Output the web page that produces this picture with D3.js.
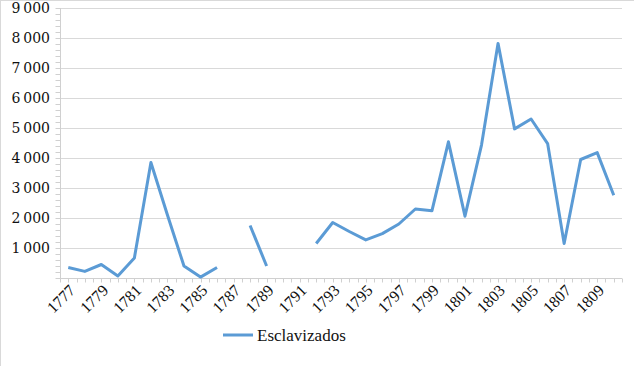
<!DOCTYPE html>
<html lang="es">
<head>
<meta charset="UTF-8" />
<title>Esclavizados</title>
<script src="https://d3js.org/d3.v7.min.js"></script>
<style>
  body { margin: 0; background: #fff; }
  .grid line { stroke: #d9d9d9; stroke-width: 1px; }
  .axis path, .axis line { stroke: #d0d0d0; }
</style>
</head>
<body>
<script>
// años (categorías)
const years = d3.range(1777, 1811);
// esclavizados por año (null = sin dato)
const values = [
  350, 220, 450, 70, 670, 3850, 2100, 400, 30, 350,
  null, 1750, 400, null, null, 1150, 1850, 1550, 1270, 1480,
  1800, 2300, 2240, 4540, 2060, 4430, 7820, 4970, 5300, 4480,
  1150, 3950, 4180, 2760
];
const yTicks = [1000, 2000, 3000, 4000, 5000, 6000, 7000, 8000, 9000];
const xLabels = years.filter((y, i) => i % 2 === 0);
const seriesName = "Esclavizados";

const data = years.map((y, i) => ({ year: y, value: values[i] }));

const yFont = "DejaVu Serif";
const xFont = "Liberation Serif";
const width = 634, height = 366;
const margin = { top: 8, right: 12, bottom: 88, left: 60 };
const chartWidth = width - margin.left - margin.right;
const chartHeight = height - margin.top - margin.bottom;

const x = d3.scaleBand().domain(years).range([0, chartWidth]);
const y = d3.scaleLinear().domain([0, 9000]).range([chartHeight, 0]);

const svg = d3.select("body").append("svg")
  .attr("width", width).attr("height", height);

// borde
svg.append("line").attr("x1", 0.5).attr("x2", 0.5).attr("y1", 0).attr("y2", height)
  .attr("stroke", "#d9d9d9");
svg.append("line").attr("x1", 0).attr("x2", width).attr("y1", 0.5).attr("y2", 0.5)
  .attr("stroke", "#d9d9d9");

const chart = svg.append("g")
  .attr("transform", `translate(${margin.left},${margin.top})`);

// líneas de cuadrícula
chart.append("g").attr("class", "grid")
  .selectAll("line").data(yTicks).enter().append("line")
  .attr("x1", 0).attr("x2", chartWidth)
  .attr("y1", d => Math.round(y(d)) + 0.5).attr("y2", d => Math.round(y(d)) + 0.5);

// eje Y con marcas menores
const fmt = d => d3.format(",")(d).replace(",", "\u2009");
const yAxis = chart.append("g").attr("class", "axis")
  .attr("transform", "translate(0.5,0)")
  .call(d3.axisLeft(y).tickValues(d3.range(0, 9001, 200)).tickSize(5).tickFormat(""));
yAxis.select(".domain").attr("d", `M0,0V${chartHeight}`);
yAxis.selectAll(".tick line").attr("stroke", "#c8c8c8");
chart.append("g").selectAll("text").data(yTicks).enter().append("text")
  .attr("x", -10).attr("y", d => y(d)).attr("dy", "0.35em")
  .attr("text-anchor", "end")
  .attr("font-family", yFont).attr("font-size", 14).attr("fill", "#111")
  .text(fmt);

// eje X
const step = x.step();
const halfTicks = d3.range(0, years.length * 2 + 1).map(i => i * step / 2);
const xAxis = chart.append("g").attr("class", "axis")
  .attr("transform", `translate(0,${chartHeight + 0.5})`);
xAxis.append("line").attr("x1", 0).attr("x2", chartWidth).attr("stroke", "#d0d0d0");
xAxis.selectAll(".mt").data(halfTicks).enter().append("line")
  .attr("class", "mt")
  .attr("x1", d => Math.round(d) + 0.5).attr("x2", d => Math.round(d) + 0.5)
  .attr("y1", 0).attr("y2", 4).attr("stroke", "#d0d0d0");
xAxis.selectAll("text").data(xLabels).enter().append("text")
  .attr("transform", d => `translate(${x(d) + x.bandwidth() / 2 + 4},${9}) rotate(-45)`)
  .attr("text-anchor", "end").attr("dy", "0.35em")
  .attr("font-family", xFont).attr("font-size", 16).attr("fill", "#111")
  .text(d => d);

// serie
const line = d3.line()
  .defined(d => d.value !== null)
  .x(d => x(d.year) + x.bandwidth() / 2)
  .y(d => y(d.value));
chart.append("path").datum(data)
  .attr("fill", "none").attr("stroke", "#5b9bd5")
  .attr("stroke-width", 3).attr("stroke-linejoin", "round")
  .attr("d", line);

// leyenda
const legend = svg.append("g").attr("transform", "translate(223,335)");
legend.append("line").attr("x1", 0).attr("x2", 30)
  .attr("stroke", "#5b9bd5").attr("stroke-width", 3);
legend.append("text").attr("x", 34).attr("dy", "0.35em")
  .attr("font-family", "serif").attr("font-size", 17).attr("fill", "#111")
  .text(seriesName);
</script>
</body>
</html>
